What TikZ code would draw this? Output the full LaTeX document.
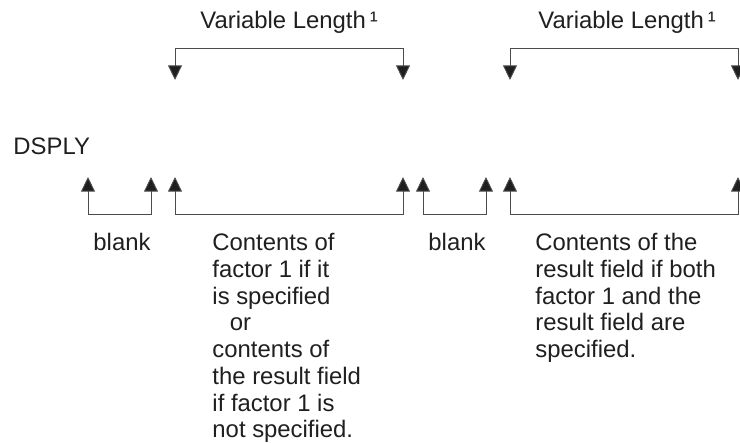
\documentclass[tikz,border=0pt]{standalone}
\usepackage{fontspec}
\setmainfont{Liberation Sans}
\usetikzlibrary{arrows.meta}
\definecolor{ink}{gray}{0.12}
\definecolor{rule}{gray}{0.30}

\begin{document}
\begin{tikzpicture}[x=0.75pt,y=-0.75pt,line width=0.7pt,
    font=\fontsize{17.9}{20.05}\selectfont,
    lbl/.style={inner sep=0pt,text=ink,anchor=base west},
    para/.style={inner sep=0pt,text=ink,anchor=north west,align=left},
    brk/.style={draw=rule,{Triangle[length=11pt,width=10.5pt,fill=ink]}-{Triangle[length=11pt,width=10.5pt,fill=ink]}}]
  \useasboundingbox (0,0) rectangle (740,443);
  % labels
  \node[lbl] (vl1) at (200,28) {Variable Length\,¹};
  \node[lbl] (vl2) at (538,28) {Variable Length\,¹};
  \node[lbl] (dsply) at (13,154) {DSPLY};
  \node[lbl] (blank1) at (93,250) {blank};
  \node[lbl] (blank2) at (428,250) {blank};
  \node[para] (cont1) at (212,233) {Contents of\\factor 1 if it\\is specified\\\hspace*{13pt}or\\contents of\\the result field\\if factor 1 is\\not specified.};
  \node[para] (cont2) at (535,233) {Contents of the\\result field if both\\factor 1 and the\\result field are\\specified.};
  % bracket ends
  \coordinate (t1a) at (175,80);  \coordinate (t1b) at (403,80);
  \coordinate (t2a) at (510,80);  \coordinate (t2b) at (738,80);
  \coordinate (b1a) at (88,177);  \coordinate (b1b) at (151,177);
  \coordinate (b2a) at (175,177); \coordinate (b2b) at (403,177);
  \coordinate (b3a) at (423,177); \coordinate (b3b) at (486,177);
  \coordinate (b4a) at (510,177); \coordinate (b4b) at (738,177);
  % variable length brackets
  \foreach \k in {1,2}
    \draw[brk] (t\k a) -- ++(0,-32) -| (t\k b);
  % field brackets
  \foreach \k in {1,...,4}
    \draw[brk] (b\k a) -- ++(0,37) -| (b\k b);
\end{tikzpicture}
\end{document}
